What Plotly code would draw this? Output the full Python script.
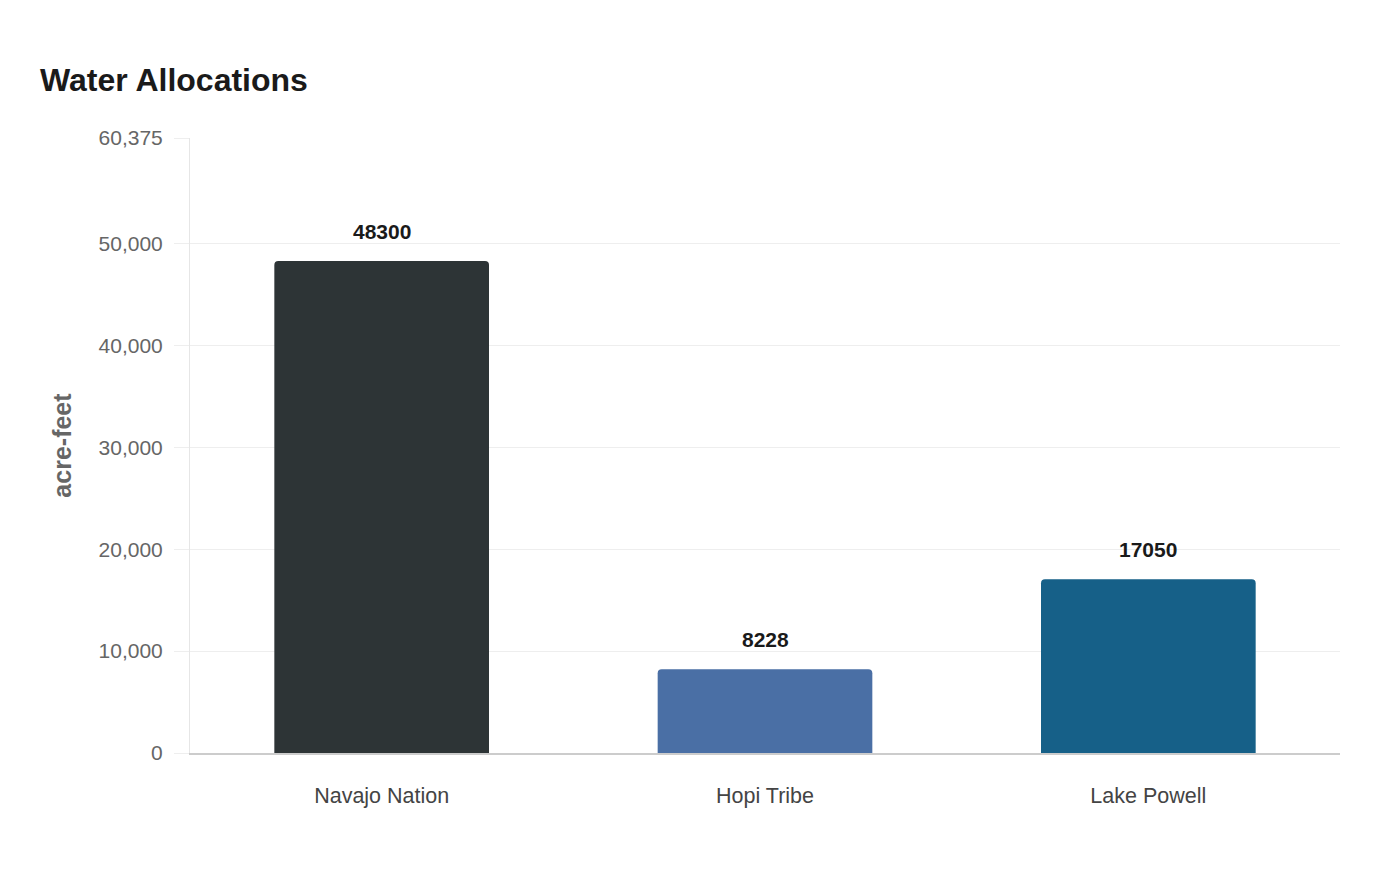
import plotly.graph_objects as go

categories = ["Navajo Nation", "Hopi Tribe", "Lake Powell"]
allocations = [48300, 8228, 17050]
bar_colors = ["#2d3436", "#4a6fa5", "#166088"]
y_max = 60375
y_ticks = [0, 10000, 20000, 30000, 40000, 50000, 60375]
y_tick_labels = [f"{v:,}" for v in y_ticks]

# page has an 8px body offset, margins are set with that in mind
fig = go.Figure()
fig.add_trace(go.Bar(
    x=categories,
    y=allocations,
    marker=dict(color=bar_colors, cornerradius=4, line=dict(width=0)),
    width=0.56,
    hoverinfo="x+y",
))

# value labels above the bars
for cat, val in zip(categories, allocations):
    fig.add_annotation(
        x=cat, y=val, text=f"<b>{val}</b>", showarrow=False,
        yanchor="bottom", yshift=16,
        font=dict(family="Liberation Sans, Arial, sans-serif", size=21, color="#1a1a1a"),
    )

fig.update_layout(
    width=1400, height=880,
    margin=dict(l=182, r=68, t=130, b=135),
    paper_bgcolor="white", plot_bgcolor="white",
    font=dict(family="Liberation Sans, Arial, sans-serif"),
    title=dict(
        text="<b>Water Allocations</b>", x=32 / 1400, xanchor="left",
        y=1 - 72 / 880, yanchor="middle",
        font=dict(size=32, color="#1a1a1a"),
    ),
    showlegend=False,
)
fig.update_yaxes(
    range=[0, y_max], tickvals=y_ticks, ticktext=y_tick_labels,
    showgrid=True, gridcolor="#eeeeee", gridwidth=1,
    showline=True, linecolor="#e6e6e6", linewidth=1,
    ticks="outside", ticklen=15, tickcolor="#eeeeee",
    ticklabelstandoff=7,
    tickfont=dict(size=21, color="#666666"),
    zeroline=False,
    title=dict(text="<b>acre-feet</b>", font=dict(size=25, color="#666666"), standoff=19),
)
fig.update_xaxes(
    showline=True, linecolor="#cccccc", linewidth=1.5,
    ticks="", showgrid=False,
    ticklabelstandoff=22,
    tickfont=dict(size=21.5, color="#444444"),
)

fig.write_html("out.html")
